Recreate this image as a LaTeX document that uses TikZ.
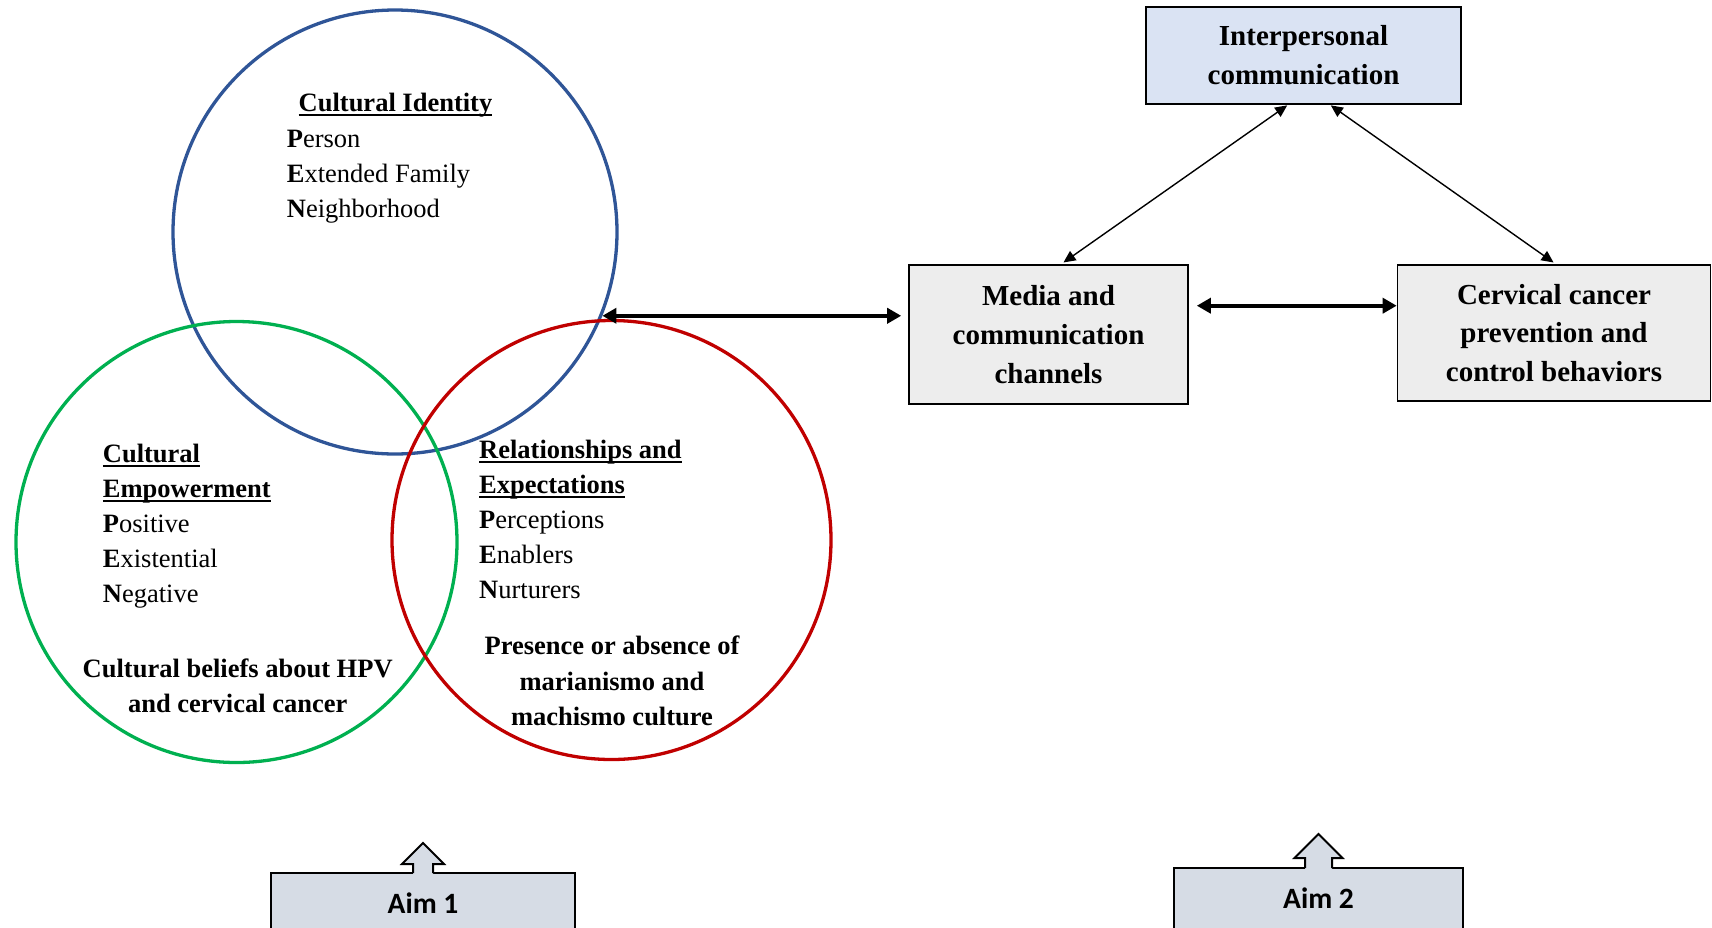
\documentclass[tikz,border=0pt]{standalone}
\usepackage{fontspec}
\setmainfont{Liberation Serif}
\newfontfamily\aimfont{Carlito}
\usetikzlibrary{arrows.meta,calc}
\definecolor{cblue}{RGB}{47,85,151}
\definecolor{cgreen}{RGB}{0,176,80}
\definecolor{cred}{RGB}{192,0,0}
\definecolor{interpfill}{RGB}{218,227,243}
\definecolor{boxgray}{RGB}{237,237,237}
\definecolor{aimfill}{RGB}{214,220,229}
\newcommand\myul[1]{\setbox0\hbox{#1}\rlap{\rule[-4.3pt]{\wd0}{2pt}}\box0}
\begin{document}
\begin{tikzpicture}[x=1pt,y=-1pt,
  ring/.style={circle,line width=3.3pt,inner sep=0pt},
  hdr/.style={inner sep=0pt,font=\fontsize{26.5}{35}\selectfont\bfseries},
  itm/.style={inner sep=0pt,anchor=base west,font=\fontsize{26.5}{35}\selectfont},
  cbox/.style={draw=black,line width=1.6pt,align=center,inner sep=0pt,
     font=\fontsize{29}{38.8}\selectfont\bfseries},
  thinarrow/.style={line width=1.4pt,{Triangle[length=12pt,width=11pt]}-{Triangle[length=12pt,width=11pt]},shorten <=1pt,shorten >=3pt},
  thickarrow/.style={line width=4pt,{Triangle[length=14pt,width=15pt]}-{Triangle[length=14pt,width=15pt]}},
  aimbox/.style={draw=black,line width=2pt,fill=aimfill,outer sep=0pt,inner sep=0pt,
     font=\aimfont\fontsize{29.5}{34}\selectfont\bfseries},
  aimline/.style={line width=2pt,line join=miter}
]
\useasboundingbox (0,0) rectangle (1712,927);
\clip (0,0) rectangle (1712,927);

% circles
\node[ring,draw=cblue,minimum size=444pt] (idc) at (395,232) {};
\node[ring,draw=cgreen,minimum size=441pt] (empc) at (236.5,542) {};
\node[ring,draw=cred,minimum size=439pt] (relc) at (611.5,540) {};

% Cultural identity
\node[hdr,anchor=base] (cih) at (395.5,111.7) {\myul{Cultural Identity}};
\node[itm] (ci1) at (286.7,147.7) {\textbf{P}erson};
\node[itm] (ci2) at (286.7,182.7) {\textbf{E}xtended Family};
\node[itm] (ci3) at (286.7,217.7) {\textbf{N}eighborhood};

% Cultural empowerment
\node[itm] (ce0) at (102.7,462.3) {\bfseries\myul{Cultural}};
\node[itm] (ce1) at (102.7,497.3) {\bfseries\myul{Empowerment}};
\node[itm] (ce2) at (102.7,532.3) {\textbf{P}ositive};
\node[itm] (ce3) at (102.7,567.3) {\textbf{E}xistential};
\node[itm] (ce4) at (102.7,602.3) {\textbf{N}egative};
\node[hdr,anchor=base] (ceb1) at (237.7,677.7) {Cultural beliefs about HPV};
\node[hdr,anchor=base] (ceb2) at (237.7,712.7) {and cervical cancer};

% Relationships and expectations
\node[itm] (re0) at (479,458.3) {\bfseries\myul{Relationships and}};
\node[itm] (re1) at (479,493.3) {\bfseries\myul{Expectations}};
\node[itm] (re2) at (479,528.3) {\textbf{P}erceptions};
\node[itm] (re3) at (479,563.3) {\textbf{E}nablers};
\node[itm] (re4) at (479,598.3) {\textbf{N}urturers};
\node[hdr,anchor=base] (reb1) at (612,654.3) {Presence or absence of};
\node[hdr,anchor=base] (reb2) at (612,690) {marianismo and};
\node[hdr,anchor=base] (reb3) at (612,725.5) {machismo culture};

% boxes
\node[cbox,fill=interpfill,minimum width=315pt,minimum height=97pt] (ip) at (1303.5,55.5) {Interpersonal\\communication};
\node[cbox,fill=boxgray,minimum width=279pt,minimum height=139pt] (media) at (1048.5,334.5) {Media and\\communication\\channels};
\node[cbox,fill=boxgray,minimum width=313pt,minimum height=136pt] (cerv) at (1554,333) {Cervical cancer\\prevention and\\control behaviors};

% connectors
\draw[thinarrow] ([xshift=-15.5pt]ip.south) -- ([xshift=12.5pt]media.north);
\draw[thinarrow] ([xshift=26.5pt]ip.south) -- ([xshift=2pt]cerv.north);
\draw[thickarrow,shorten <=8pt] ($(media.east)+(0,-28.8)$) -- ($(media.east -| cerv.west)+(0,-28.8)$);
\draw[thickarrow,shorten >=7pt] (idc.-22) -- (idc.-22 -| media.west);

% aim boxes
\node[aimbox,minimum width=304pt,minimum height=60pt,anchor=north] (aim1) at (423,873) {Aim 1};
\fill[aimfill] ($(aim1.north)+(-10,1.5)$) -- ++(0,-10.5) -- ++(-11,0) -- ($(aim1.north)+(0,-30)$) -- ($(aim1.north)+(21,-9)$) -- ++(-11,0) -- ++(0,10.5) -- cycle;
\draw[aimline] ($(aim1.north)+(-10,0)$) -- ++(0,-9) -- ++(-11,0) -- ($(aim1.north)+(0,-30)$) -- ($(aim1.north)+(21,-9)$) -- ++(-11,0) -- ++(0,9);

\node[aimbox,minimum width=289pt,minimum height=66pt,anchor=north] (aim2) at (1318.5,868) {\raisebox{5pt}{Aim 2}};
\fill[aimfill] ($(aim2.north)+(-13.5,1.5)$) -- ++(0,-11.5) -- ++(-10.5,0) -- ($(aim2.north)+(0,-34)$) -- ($(aim2.north)+(24,-10)$) -- ++(-10.5,0) -- ++(0,11.5) -- cycle;
\draw[aimline] ($(aim2.north)+(-13.5,0)$) -- ++(0,-10) -- ++(-10.5,0) -- ($(aim2.north)+(0,-34)$) -- ($(aim2.north)+(24,-10)$) -- ++(-10.5,0) -- ++(0,10);
\end{tikzpicture}
\end{document}
